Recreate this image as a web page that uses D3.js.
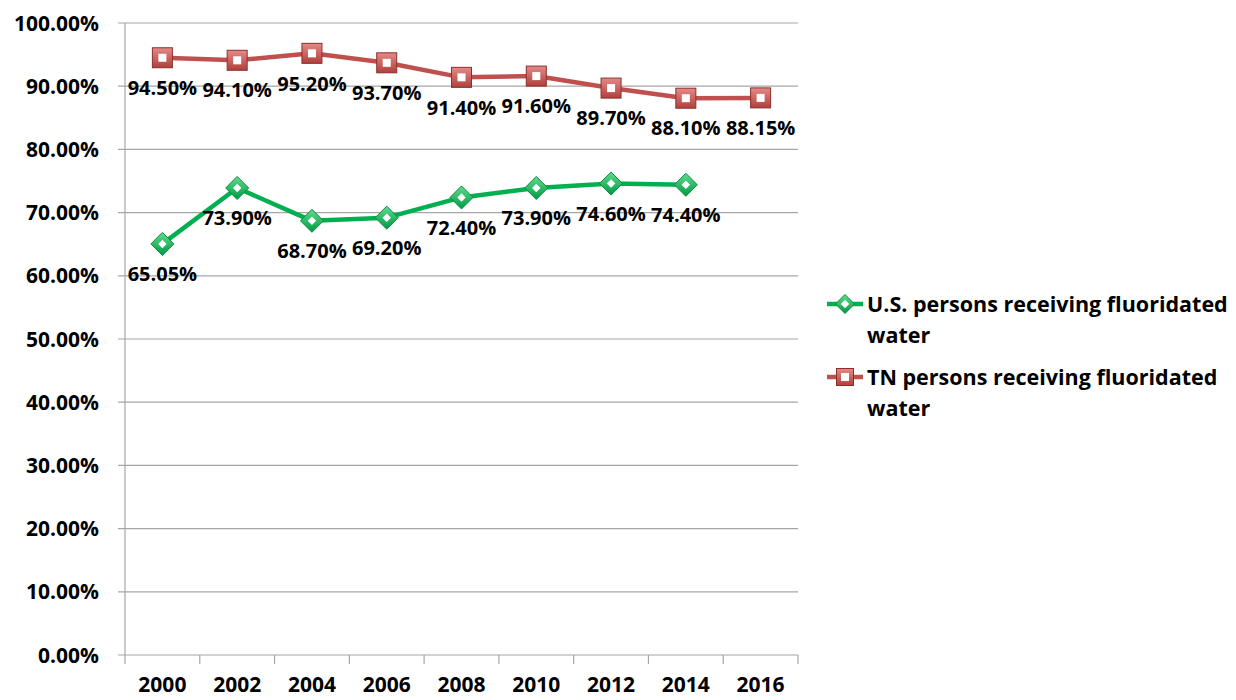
<!DOCTYPE html>
<html>
<head>
<meta charset="utf-8">
<script src="https://cdn.jsdelivr.net/npm/d3@7"></script>
<style>
  body { margin: 0; background: #fff; }
  svg text { font-family: "Open Sans", "Noto Sans", sans-serif; font-weight: bold; fill: #000; }
</style>
</head>
<body>
<svg id="chart" width="1236" height="700"></svg>
<script>
// data
const years = ["2000", "2002", "2004", "2006", "2008", "2010", "2012", "2014", "2016"];
const usValues = [65.05, 73.90, 68.70, 69.20, 72.40, 73.90, 74.60, 74.40, null];
const tnValues = [94.50, 94.10, 95.20, 93.70, 91.40, 91.60, 89.70, 88.10, 88.15];
const yTicks = [0, 10, 20, 30, 40, 50, 60, 70, 80, 90, 100];
const seriesNames = ["U.S. persons receiving fluoridated water", "TN persons receiving fluoridated water"];

const svg = d3.select("#chart");
const width = 1236, height = 700;
const margin = { top: 23, right: 438, bottom: 45, left: 125 };
const innerWidth = width - margin.left - margin.right;
const innerHeight = height - margin.top - margin.bottom;

const g = svg.append("g")
  .attr("transform", `translate(${margin.left},${margin.top})`);

const xScale = d3.scaleBand().domain(years).range([0, innerWidth]).padding(0);
const yScale = d3.scaleLinear().domain([0, 100]).range([innerHeight, 0]);
const cx = d => xScale(d) + xScale.bandwidth() / 2;

// gridlines
g.selectAll(".grid")
  .data(yTicks)
  .join("line")
  .attr("x1", -7).attr("x2", innerWidth)
  .attr("y1", d => yScale(d)).attr("y2", d => yScale(d))
  .attr("stroke", "#a6a6a6").attr("stroke-width", 1.2);

// y axis line
g.append("line")
  .attr("x1", 0).attr("x2", 0).attr("y1", 0).attr("y2", innerHeight + 9)
  .attr("stroke", "#a6a6a6").attr("stroke-width", 1.2);

// x tick marks at band edges
const edges = years.map(d => xScale(d)).concat([innerWidth]);
g.selectAll(".xtick")
  .data(edges.slice(1))
  .join("line")
  .attr("x1", d => d).attr("x2", d => d)
  .attr("y1", innerHeight).attr("y2", innerHeight + 9)
  .attr("stroke", "#a6a6a6").attr("stroke-width", 1.2);

// y labels
g.selectAll(".ylab")
  .data(yTicks)
  .join("text")
  .attr("x", -26)
  .attr("y", d => yScale(d))
  .attr("dy", "0.36em")
  .attr("text-anchor", "end")
  .style("font-size", "21px")
  .text(d => d3.format(".2f")(d) + "%");

// x labels
g.selectAll(".xlab")
  .data(years)
  .join("text")
  .attr("x", d => cx(d))
  .attr("y", innerHeight + 37)
  .attr("text-anchor", "middle")
  .style("font-size", "21px")
  .text(d => d);

const green = "#00b050", red = "#c0504d";

function diamond(sel, size) {
  const s = size / 2;
  sel.append("path")
    .attr("d", `M0,${-s}L${s},0L0,${s}L${-s},0Z`)
    .attr("fill", "url(#gGreen)").attr("stroke", "#0a8a3c").attr("stroke-width", 1);
  sel.append("rect")
    .attr("x", -3).attr("y", -3).attr("width", 6).attr("height", 6)
    .attr("transform", "rotate(45)")
    .attr("fill", "#fff");
}
function square(sel, size) {
  const s = size / 2;
  sel.append("rect")
    .attr("x", -s).attr("y", -s).attr("width", size).attr("height", size)
    .attr("fill", "url(#gRed)").attr("stroke", "#8c2f2c").attr("stroke-width", 1);
  sel.append("rect")
    .attr("x", -4).attr("y", -4).attr("width", 8).attr("height", 8)
    .attr("fill", "#fff");
}

const defs = svg.append("defs");
const gg = defs.append("linearGradient").attr("id", "gGreen").attr("x1", 0).attr("y1", 0).attr("x2", 0).attr("y2", 1);
gg.append("stop").attr("offset", "0%").attr("stop-color", "#5fdc8e");
gg.append("stop").attr("offset", "100%").attr("stop-color", "#009a44");
const gr = defs.append("linearGradient").attr("id", "gRed").attr("x1", 0).attr("y1", 0).attr("x2", 0).attr("y2", 1);
gr.append("stop").attr("offset", "0%").attr("stop-color", "#e58a87");
gr.append("stop").attr("offset", "100%").attr("stop-color", "#b0403d");

const line = d3.line()
  .defined(d => d.v != null)
  .x(d => cx(d.year))
  .y(d => yScale(d.v));

const series = [
  { name: seriesNames[0], values: usValues, color: green, marker: diamond, size: 23 },
  { name: seriesNames[1], values: tnValues, color: red, marker: square, size: 20 }
];

series.forEach(s => {
  const pts = years.map((y, i) => ({ year: y, v: s.values[i] }));
  g.append("path")
    .datum(pts)
    .attr("d", line)
    .attr("fill", "none")
    .attr("stroke", s.color)
    .attr("stroke-width", 4.5)
    .attr("stroke-linejoin", "round");

  const valid = pts.filter(d => d.v != null);
  g.selectAll(null)
    .data(valid)
    .join("g")
    .attr("transform", d => `translate(${cx(d.year)},${yScale(d.v)})`)
    .each(function () { s.marker(d3.select(this), s.size); });

  g.selectAll(null)
    .data(valid)
    .join("text")
    .attr("x", d => cx(d.year))
    .attr("y", d => yScale(d.v) + 30)
    .attr("dy", "0.36em")
    .attr("text-anchor", "middle")
    .style("font-size", "20px")
    .text(d => d3.format(".2f")(d.v) + "%");
});

// legend
const legend = svg.append("g").attr("transform", "translate(827,0)");
const legendY = [304, 377];
series.forEach((s, i) => {
  const lg = legend.append("g").attr("transform", `translate(0,${legendY[i]})`);
  lg.append("line").attr("x1", 0).attr("x2", 36).attr("y1", 0).attr("y2", 0)
    .attr("stroke", s.color).attr("stroke-width", 4.5);
  const m = lg.append("g").attr("transform", "translate(18,0)");
  s.marker(m, i === 0 ? 19 : 17);
  const words = s.name.split(" ");
  const t = lg.append("text").attr("x", 40).attr("y", 0).style("font-size", "21.5px");
  t.append("tspan").attr("x", 40).attr("dy", "0.36em").text(words.slice(0, -1).join(" "));
  t.append("tspan").attr("x", 40).attr("dy", "1.45em").text(words[words.length - 1]);
});
</script>
</body>
</html>
